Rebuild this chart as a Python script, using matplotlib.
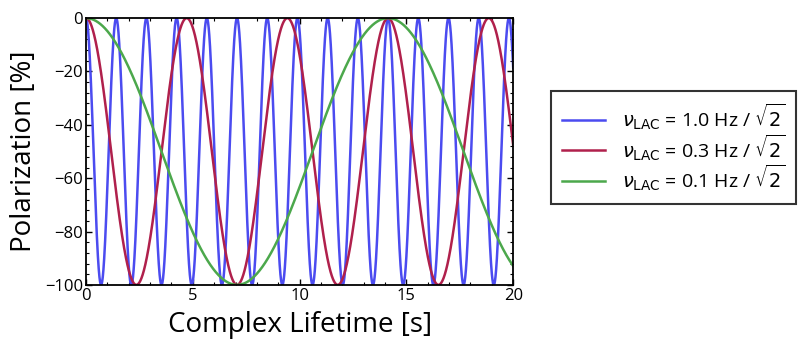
import numpy as np
import matplotlib
matplotlib.use("Agg")
import matplotlib.pyplot as plt
from matplotlib.ticker import MultipleLocator

# level-anticrossing frequencies (Hz, divided by sqrt 2)
freq_labels = ["1.0", "0.3", "0.1"]
freq_hz = [1.0, 0.3, 0.1]
colors = ["#4b4bf0", "#b0204c", "#4ca84c"]

x_ticks = [0, 5, 10, 15, 20]
y_ticks = [0, -20, -40, -60, -80, -100]

plt.rcParams["font.family"] = ["Open Sans", "DejaVu Sans"]

fig = plt.figure(figsize=(8, 3.42), dpi=100)
ax = fig.add_axes([0.1075, 0.167, 0.534, 0.78])

t = np.linspace(0, 20, 4000)
for lab, f, c in zip(freq_labels, freq_hz, colors):
    nu = f / np.sqrt(2)
    pol = -100 * np.sin(np.pi * nu * t) ** 2
    ax.plot(t, pol, color=c, lw=1.8,
            label=r"$\nu_{\rm LAC}$" + f" = {lab} Hz / " + r"$\sqrt{2}$")

ax.set_xlim(0, 20)
ax.set_ylim(-100, 0)
ax.set_xticks(x_ticks)
ax.set_yticks(y_ticks)
ax.xaxis.set_minor_locator(MultipleLocator(1))
ax.yaxis.set_minor_locator(MultipleLocator(4))
ax.tick_params(which="both", direction="in", top=True, right=True, labelsize=12, pad=2)
ax.tick_params(which="major", length=4, width=1)
ax.tick_params(which="minor", length=2, width=0.8)
for s in ax.spines.values():
    s.set_linewidth(1.3)

ax.set_xlabel("Complex Lifetime [s]", fontsize=20, labelpad=5)
ax.set_ylabel("Polarization [%]", fontsize=20, labelpad=5)

leg = fig.legend(loc="upper left", bbox_to_anchor=(0.689, 0.734), fontsize=14,
                 frameon=True, fancybox=False, edgecolor="black",
                 handlelength=2.2, handletextpad=0.9, labelspacing=0.0,
                 borderpad=0.55, borderaxespad=0)
leg.get_frame().set_linewidth(1.5)

fig.savefig("out.png", dpi=100)
